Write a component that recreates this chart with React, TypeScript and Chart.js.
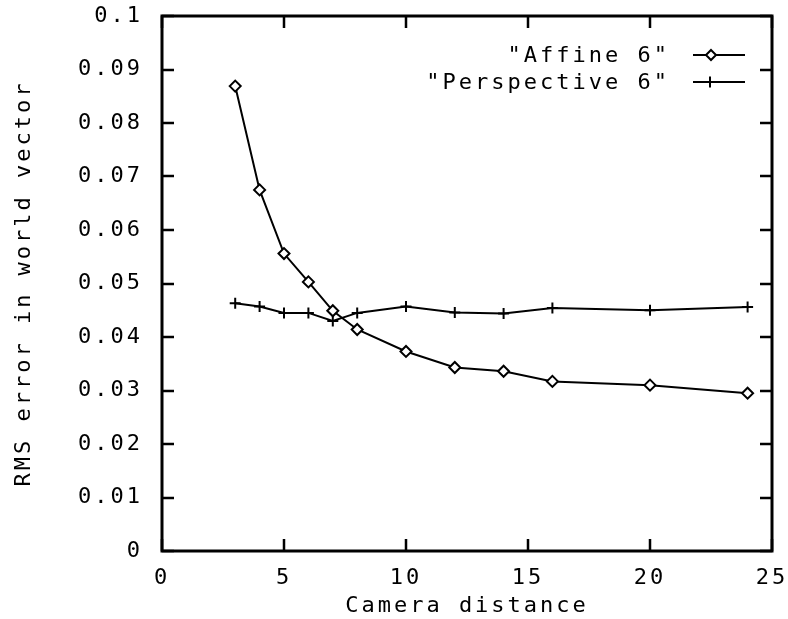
import React, { useEffect, useRef } from "react";
import { Chart, registerables } from "chart.js";

Chart.register(...registerables);

const xValues = [3, 4, 5, 6, 7, 8, 10, 12, 14, 16, 20, 24];
const affine6 = [0.0869, 0.0675, 0.0556, 0.0503, 0.0449, 0.0414, 0.0373, 0.0343, 0.0336, 0.0317, 0.031, 0.0295];
const perspective6 = [0.0463, 0.0457, 0.0445, 0.0445, 0.043, 0.0445, 0.0457, 0.0446, 0.0444, 0.0454, 0.045, 0.0456];
const seriesLabels = ['"Affine 6"', '"Perspective 6"'];
const xTicks = [0, 5, 10, 15, 20, 25];
const yTicks = [0, 0.01, 0.02, 0.03, 0.04, 0.05, 0.06, 0.07, 0.08, 0.09, 0.1];
const xTitle = "Camera distance";
const yTitle = "RMS error in world vector";

const FONT = "'DejaVu Sans Mono', monospace";
const LS = "3px";

const spacingPlugin = {
  id: "spacing",
  beforeUpdate(chart: any) {
    chart.ctx.letterSpacing = LS;
  },
  beforeLayout(chart: any) {
    chart.ctx.letterSpacing = LS;
  },
  beforeDraw(chart: any) {
    chart.ctx.letterSpacing = LS;
  },
};

const framePlugin = {
  id: "frame",
  beforeDatasetsDraw(chart: any) {
    const { ctx, chartArea } = chart;
    const xs = chart.scales.x;
    const ys = chart.scales.y;
    const { left, right, top, bottom } = chartArea;
    const tl = 12;
    ctx.save();
    ctx.strokeStyle = "#000";
    ctx.lineWidth = 2.5;
    ctx.beginPath();
    for (const v of xTicks) {
      const px = Math.round(xs.getPixelForValue(v));
      ctx.moveTo(px, bottom);
      ctx.lineTo(px, bottom - tl);
      ctx.moveTo(px, top);
      ctx.lineTo(px, top + tl);
    }
    for (const v of yTicks) {
      const py = Math.round(ys.getPixelForValue(v));
      ctx.moveTo(left, py);
      ctx.lineTo(left + tl, py);
      ctx.moveTo(right, py);
      ctx.lineTo(right - tl, py);
    }
    ctx.stroke();
    ctx.lineWidth = 3;
    ctx.strokeRect(left, top, right - left, bottom - top);
    ctx.restore();
  },
};

const legendPlugin = {
  id: "gpLegend",
  afterDatasetsDraw(chart: any) {
    const { ctx } = chart;
    ctx.save();
    ctx.letterSpacing = LS;
    ctx.font = `22px ${FONT}`;
    ctx.textAlign = "right";
    ctx.textBaseline = "middle";
    const rows = [55, 82];
    chart.data.datasets.forEach((ds: any, i: number) => {
      const y = rows[i];
      ctx.fillStyle = "#000";
      ctx.fillText(seriesLabels[i], 670, y + 1);
      ctx.strokeStyle = "#000";
      ctx.lineWidth = 2;
      ctx.beginPath();
      ctx.moveTo(693, y);
      ctx.lineTo(745, y);
      ctx.stroke();
      ctx.lineWidth = 2;
      ctx.beginPath();
      if (i === 0) {
        const r = 5;
        const cx = 711;
        ctx.moveTo(cx, y - r);
        ctx.lineTo(cx + r, y);
        ctx.lineTo(cx, y + r);
        ctx.lineTo(cx - r, y);
        ctx.closePath();
        ctx.fillStyle = "#fff";
        ctx.fill();
        ctx.stroke();
      } else {
        const r = 5.5;
        const cx = 710;
        ctx.moveTo(cx, y - r);
        ctx.lineTo(cx, y + r);
        ctx.stroke();
      }
    });
    ctx.restore();
  },
};

export default function App() {
  const ref = useRef<HTMLCanvasElement | null>(null);
  useEffect(() => {
    if (!ref.current) return;
    const chart = new Chart(ref.current, {
      type: "scatter",
      data: {
        datasets: [
          {
            label: seriesLabels[0],
            data: xValues.map((x, i) => ({ x, y: affine6[i] })),
            showLine: true,
            borderColor: "#000",
            borderWidth: 2,
            backgroundColor: "#fff",
            pointStyle: "rectRot",
            pointRadius: 5.5,
            pointBorderWidth: 2,
            pointBorderColor: "#000",
            pointBackgroundColor: "#fff",
          },
          {
            label: seriesLabels[1],
            data: xValues.map((x, i) => ({ x, y: perspective6[i] })),
            showLine: true,
            borderColor: "#000",
            borderWidth: 2,
            backgroundColor: "#000",
            pointStyle: "cross",
            pointRadius: 5.5,
            pointBorderWidth: 2,
            pointBorderColor: "#000",
          },
        ],
      },
      options: {
        responsive: false,
        animation: false,
        devicePixelRatio: 1,
        layout: { padding: { left: 0, top: 16, right: 16, bottom: 0 } },
        plugins: { legend: { display: false }, tooltip: { enabled: false } },
        scales: {
          x: {
            type: "linear",
            min: 0,
            max: 25,
            afterFit: (s: any) => {
              s.height = 68;
              s.paddingLeft = 0;
              s.paddingRight = 0;
            },
            afterBuildTicks: (s: any) => {
              s.ticks = xTicks.map((v) => ({ value: v }));
            },
            grid: { display: false, drawTicks: false },
            border: { display: false },
            ticks: {
              color: "#000",
              font: { family: FONT, size: 22 },
              padding: 14,
              maxRotation: 0,
              callback: (v: any) => String(v),
            },
            title: {
              display: true,
              text: xTitle,
              color: "#000",
              font: { family: FONT, size: 22 },
              padding: { top: 0, bottom: 0 },
            },
          },
          y: {
            type: "linear",
            min: 0,
            max: 0.1,
            afterFit: (s: any) => {
              s.width = 162;
              s.paddingTop = 0;
              s.paddingBottom = 0;
            },
            afterBuildTicks: (s: any) => {
              s.ticks = yTicks.map((v) => ({ value: v }));
            },
            grid: { display: false, drawTicks: false },
            border: { display: false },
            ticks: {
              color: "#000",
              font: { family: FONT, size: 22 },
              padding: 19,
              callback: (v: any) => String(parseFloat(Number(v).toFixed(2))),
            },
            title: {
              display: true,
              text: yTitle,
              color: "#000",
              font: { family: FONT, size: 22 },
              padding: { top: 11, bottom: 0 },
            },
          },
        },
      },
      plugins: [spacingPlugin, framePlugin, legendPlugin],
    } as any);
    return () => chart.destroy();
  }, []);
  return (
    <div style={{ position: "fixed", left: 0, top: 0, width: 788, height: 619, background: "#fff" }}>
      <canvas ref={ref} width={788} height={619} style={{ width: 788, height: 619 }} />
    </div>
  );
}
